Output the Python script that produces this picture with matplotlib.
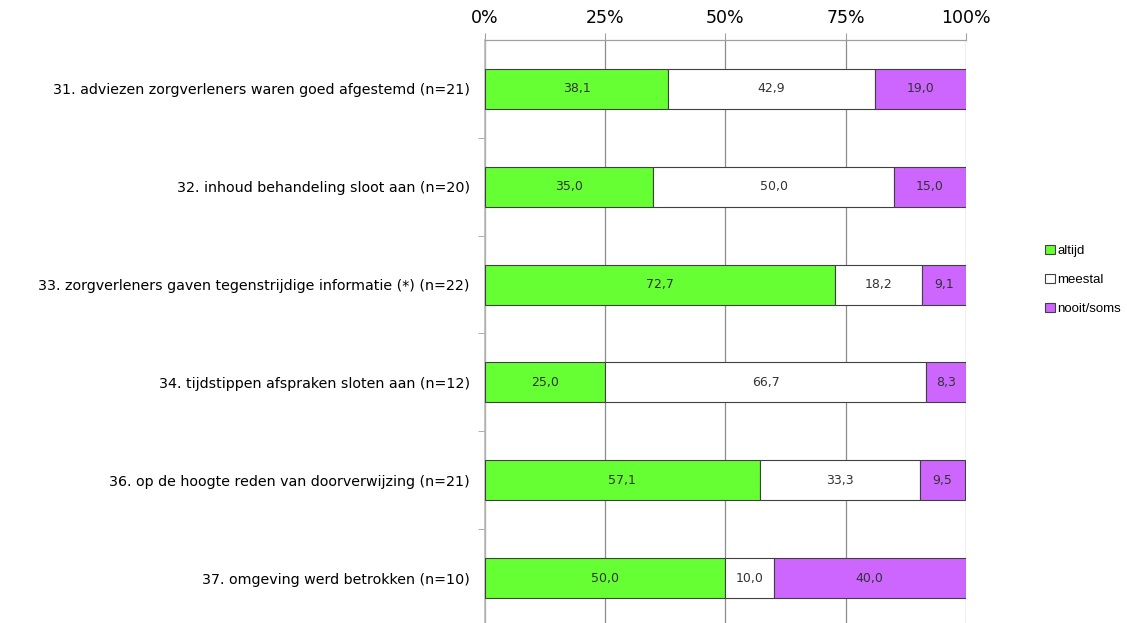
import matplotlib.pyplot as plt
import numpy as np

categories = [
    "31. adviezen zorgverleners waren goed afgestemd (n=21)",
    "32. inhoud behandeling sloot aan (n=20)",
    "33. zorgverleners gaven tegenstrijdige informatie (*) (n=22)",
    "34. tijdstippen afspraken sloten aan (n=12)",
    "36. op de hoogte reden van doorverwijzing (n=21)",
    "37. omgeving werd betrokken (n=10)",
]
altijd = [38.1, 35.0, 72.7, 25.0, 57.1, 50.0]
meestal = [42.9, 50.0, 18.2, 66.7, 33.3, 10.0]
nooit_soms = [19.0, 15.0, 9.1, 8.3, 9.5, 40.0]
series_names = ["altijd", "meestal", "nooit/soms"]
colors = ["#66ff33", "#ffffff", "#cc66ff"]
x_ticks = [0, 25, 50, 75, 100]

fig = plt.figure(figsize=(11.27, 6.23), dpi=100)
ax = fig.add_axes([0.4303, -0.0064, 0.4268, 0.9422])

y = np.arange(len(categories))
left = np.zeros(len(categories))
handles = []
for vals, name, col in zip([altijd, meestal, nooit_soms], series_names, colors):
    vals = np.array(vals)
    bars = ax.barh(y, vals, left=left, height=0.41, color=col,
                   edgecolor="#404040", linewidth=0.8, label=name, zorder=3)
    handles.append(bars)
    for yi, l, v in zip(y, left, vals):
        ax.text(l + v / 2, yi, f"{v:.1f}".replace(".", ","), ha="center",
                va="center", fontsize=9, color="#333333", zorder=4)
    left += vals

ax.set_xlim(0, 100)
ax.set_ylim(len(categories) - 0.5, -0.5)
ax.xaxis.tick_top()
ax.set_xticks(x_ticks)
ax.set_xticklabels([f"{t}%" for t in x_ticks], fontsize=12.5)
ax.tick_params(axis="x", length=5, color="#a0a0a0", pad=4)
ax.xaxis.grid(True, color="#8c8c8c", linewidth=0.9, zorder=0)

ax.set_yticks(y)
ax.set_yticklabels(categories, fontsize=10.3)
ax.tick_params(axis="y", length=0, pad=11)
ax.set_yticks(np.arange(0.5, len(categories) - 0.5, 1), minor=True)
ax.tick_params(axis="y", which="minor", length=5, color="#a0a0a0")

for side in ["right", "bottom"]:
    ax.spines[side].set_visible(False)
ax.spines["left"].set_color("#b8b8b8")
ax.spines["left"].set_linewidth(1.2)
ax.spines["top"].set_color("#a0a0a0")
ax.spines["top"].set_linewidth(0.9)

fig.legend(handles=handles, labels=series_names, loc="center left",
           bbox_to_anchor=(0.917, 0.5506), frameon=False,
           prop={"family": "Liberation Sans", "size": 9.5},
           handlelength=0.75, handleheight=0.75, handletextpad=0.15,
           labelspacing=1.25)

fig.savefig("out.png", dpi=100)
